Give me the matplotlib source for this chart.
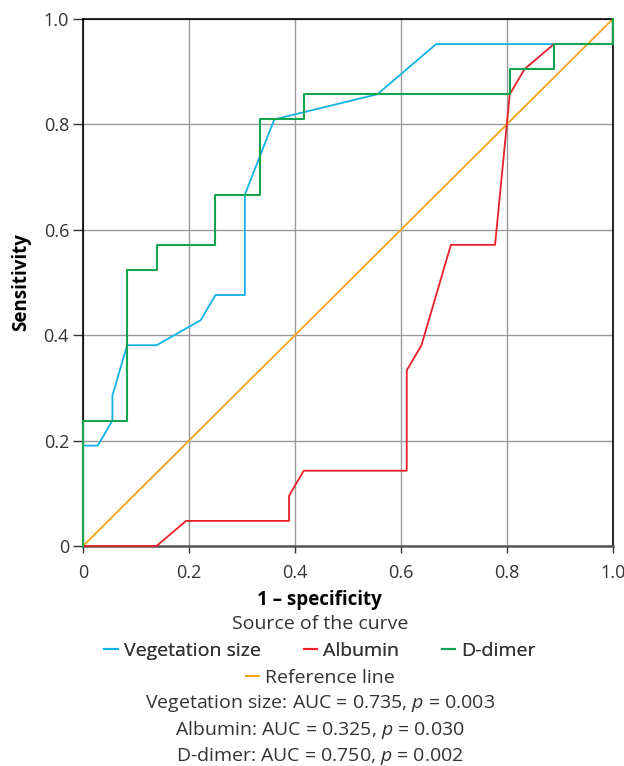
import matplotlib
matplotlib.use("Agg")
import matplotlib.pyplot as plt
from matplotlib.lines import Line2D

plt.rcParams["font.family"] = ["Open Sans", "DejaVu Sans"]
plt.rcParams["mathtext.fontset"] = "custom"
plt.rcParams["mathtext.rm"] = "Open Sans"
plt.rcParams["mathtext.it"] = "Open Sans:italic"

# ROC points (1 - specificity, sensitivity); 36 negatives, 21 positives
veg_x = [0, 0, 1/36, 2/36, 2/36, 3/36, 5/36, 8/36, 9/36, 11/36, 11/36,
         13/36, 20/36, 24/36, 1, 1]
veg_y = [0, 4/21, 4/21, 5/21, 6/21, 8/21, 8/21, 9/21, 10/21, 10/21, 14/21,
         17/21, 18/21, 20/21, 20/21, 1]

alb_x = [0, 5/36, 7/36, 14/36, 14/36, 15/36, 22/36, 22/36, 23/36, 25/36,
         28/36, 29/36, 30/36, 32/36, 1, 1]
alb_y = [0, 0, 1/21, 1/21, 2/21, 3/21, 3/21, 7/21, 8/21, 12/21,
         12/21, 18/21, 19/21, 20/21, 20/21, 1]

dd_x = [0, 0, 3/36, 3/36, 5/36, 5/36, 9/36, 9/36, 12/36, 12/36, 15/36,
        15/36, 29/36, 29/36, 32/36, 32/36, 1, 1]
dd_y = [0, 5/21, 5/21, 11/21, 11/21, 12/21, 12/21, 14/21, 14/21, 17/21,
        17/21, 18/21, 18/21, 19/21, 19/21, 20/21, 20/21, 1]

ref_x = [0, 1]
ref_y = [0, 1]

ticks = [0, 0.2, 0.4, 0.6, 0.8, 1.0]
tick_labels = ["0", "0.2", "0.4", "0.6", "0.8", "1.0"]

stats = [
    "Vegetation size: AUC = 0.735, $p$ = 0.003",
    "Albumin: AUC = 0.325, $p$ = 0.030",
    "D-dimer: AUC = 0.750, $p$ = 0.002",
]

c_veg = "#14b1e7"
c_alb = "#e8202a"
c_dd = "#13a54f"
c_ref = "#f7a21b"
txt = "#333333"

fig = plt.figure(figsize=(6.24, 7.66), dpi=100)
ax = fig.add_axes([0.133, 0.2872, 0.849, 0.688])

lw = 1.3
ax.plot(ref_x, ref_y, color=c_ref, lw=lw, zorder=2)
ax.plot(veg_x, veg_y, color=c_veg, lw=lw, zorder=3, clip_on=False)
ax.plot(alb_x, alb_y, color=c_alb, lw=lw, zorder=4, clip_on=False)
ax.plot(dd_x, dd_y, color=c_dd, lw=lw + 0.2, zorder=5, clip_on=False)

ax.set_xlim(0, 1)
ax.set_ylim(0, 1)
ax.set_xticks(ticks)
ax.set_xticklabels(tick_labels)
ax.set_yticks(ticks)
ax.set_yticklabels(tick_labels)
ax.grid(True, color="#9a9a9a", lw=1.0)
ax.set_axisbelow(True)
ax.tick_params(labelsize=13, colors=txt, width=1.0)
ax.tick_params(axis="y", length=7, pad=3)
ax.tick_params(axis="x", length=5, pad=8)
for side in ("top", "right", "left"):
    ax.spines[side].set_color("black")
    ax.spines[side].set_linewidth(1.2)
ax.spines["bottom"].set_color("#555555")
ax.spines["bottom"].set_linewidth(1.8)

ax.set_xlabel("1 – specificity", fontsize=13.5, fontweight="bold", color="black",
              labelpad=6, x=0.447)
ax.set_ylabel("Sensitivity", fontsize=13.5, fontweight="bold", color="black",
              labelpad=9)

cx = 0.513
fig.text(cx, 1 - 624 / 766, "Source of the curve", ha="center", va="center",
         fontsize=14, color=txt)

handles = [Line2D([], [], color=c, lw=1.5) for c in (c_veg, c_alb, c_dd)]
leg1 = fig.legend(handles, ["Vegetation size", "Albumin", "D-dimer"], ncol=3,
                  loc="center", bbox_to_anchor=(cx, 1 - 651 / 766),
                  frameon=False, fontsize=14, handlelength=0.7,
                  handletextpad=0.3, columnspacing=2.2, labelcolor=txt)
fig.add_artist(leg1)
fig.legend([Line2D([], [], color=c_ref, lw=1.5)], ["Reference line"],
           loc="center", bbox_to_anchor=(cx, 1 - 678 / 766), frameon=False,
           fontsize=14, handlelength=0.7, handletextpad=0.3, labelcolor=txt)

for i, s in enumerate(stats):
    fig.text(cx, 1 - (704 + 26 * i) / 766, s, ha="center", va="center",
             fontsize=14, color=txt)

fig.savefig("out.png", dpi=100)
